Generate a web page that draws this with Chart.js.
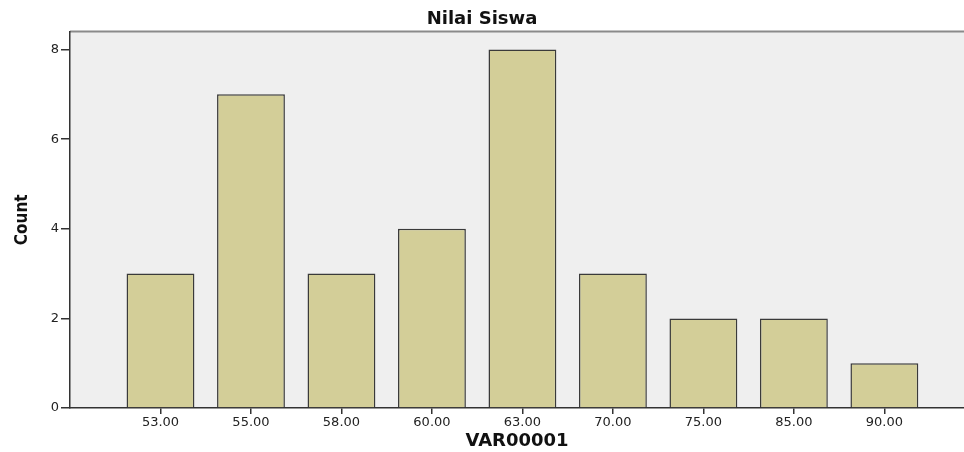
<!DOCTYPE html>
<html>
<head>
<meta charset="utf-8">
<script src="https://cdn.jsdelivr.net/npm/chart.js@4/dist/chart.umd.min.js"></script>
<style>
  html, body { margin: 0; padding: 0; background: #fff; }
  #wrap { width: 964px; height: 452px; }
</style>
</head>
<body>
<div id="wrap"><canvas id="chart"></canvas></div>
<script>
const categories = ['53.00', '55.00', '58.00', '60.00', '63.00', '70.00', '75.00', '85.00', '90.00'];
const counts = [3, 7, 3, 4, 8, 3, 2, 2, 1];
const yTicks = [0, 2, 4, 6, 8];

// plot background + top border like SPSS
const plotBg = {
    id: 'plotBg',
    beforeDraw(chart) {
        const { ctx, chartArea: a } = chart;
        ctx.save();
        ctx.fillStyle = '#efefef';
        ctx.fillRect(a.left, a.top, a.right - a.left, a.bottom - a.top);
        ctx.strokeStyle = '#8a8a8a';
        ctx.lineWidth = 2;
        ctx.beginPath();
        ctx.moveTo(a.left, a.top);
        ctx.lineTo(a.right, a.top);
        ctx.stroke();
        ctx.restore();
    }
};

const points = counts.map((c, i) => ({ x: i, y: c }));

new Chart(document.getElementById('chart'), {
    type: 'bar',
    data: {
        datasets: [{
            data: points,
            backgroundColor: '#d3ce98',
            borderColor: '#3a3a3a',
            borderWidth: 1.5,
            barPercentage: 0.75,
            categoryPercentage: 1
        }]
    },
    options: {
        responsive: true,
        maintainAspectRatio: false,
        animation: false,
        layout: { padding: 0 },
        plugins: {
            legend: { display: false },
            tooltip: { enabled: false },
            title: {
                display: true,
                text: 'Nilai Siswa',
                color: '#111',
                font: { family: 'DejaVu Sans, sans-serif', size: 18, weight: 'bold' },
                padding: { top: 9, bottom: 1 }
            }
        },
        scales: {
            x: {
                type: 'linear',
                offset: false,
                min: -1,
                max: 8.88,
                afterBuildTicks: s => { s.ticks = categories.map((c, i) => ({ value: i })); },
                afterFit: s => { s.height = 44; },
                ticks: {
                    autoSkip: false,
                    maxRotation: 0,
                    color: '#222',
                    padding: 1,
                    font: { family: 'DejaVu Sans, sans-serif', size: 13 },
                    callback: v => categories[v]
                },
                grid: { offset: false, drawOnChartArea: false, drawTicks: true, tickLength: 6, color: '#333', lineWidth: 1.5 },
                border: { display: true, color: '#333', width: 1.5 },
                title: {
                    display: true,
                    text: 'VAR00001',
                    color: '#111',
                    font: { family: 'DejaVu Sans, sans-serif', size: 18, weight: 'bold' },
                    padding: { top: 0, bottom: 0 }
                }
            },
            y: {
                min: 0,
                max: 8.4,
                afterBuildTicks: s => { s.ticks = yTicks.map(v => ({ value: v })); },
                afterFit: s => { s.width = 70; },
                ticks: {
                    color: '#222',
                    padding: 2,
                    font: { family: 'DejaVu Sans, sans-serif', size: 13 }
                },
                grid: { drawOnChartArea: false, drawTicks: true, tickLength: 9, color: '#333', lineWidth: 1.5 },
                border: { display: true, color: '#333', width: 1.5 },
                title: {
                    display: true,
                    text: 'Count',
                    color: '#111',
                    font: { family: 'Liberation Sans Narrow, DejaVu Sans Condensed, sans-serif', size: 17, weight: 'bold' },
                    padding: { top: 12, bottom: 0 }
                }
            }
        }
    },
    plugins: [plotBg]
});
</script>
</body>
</html>
